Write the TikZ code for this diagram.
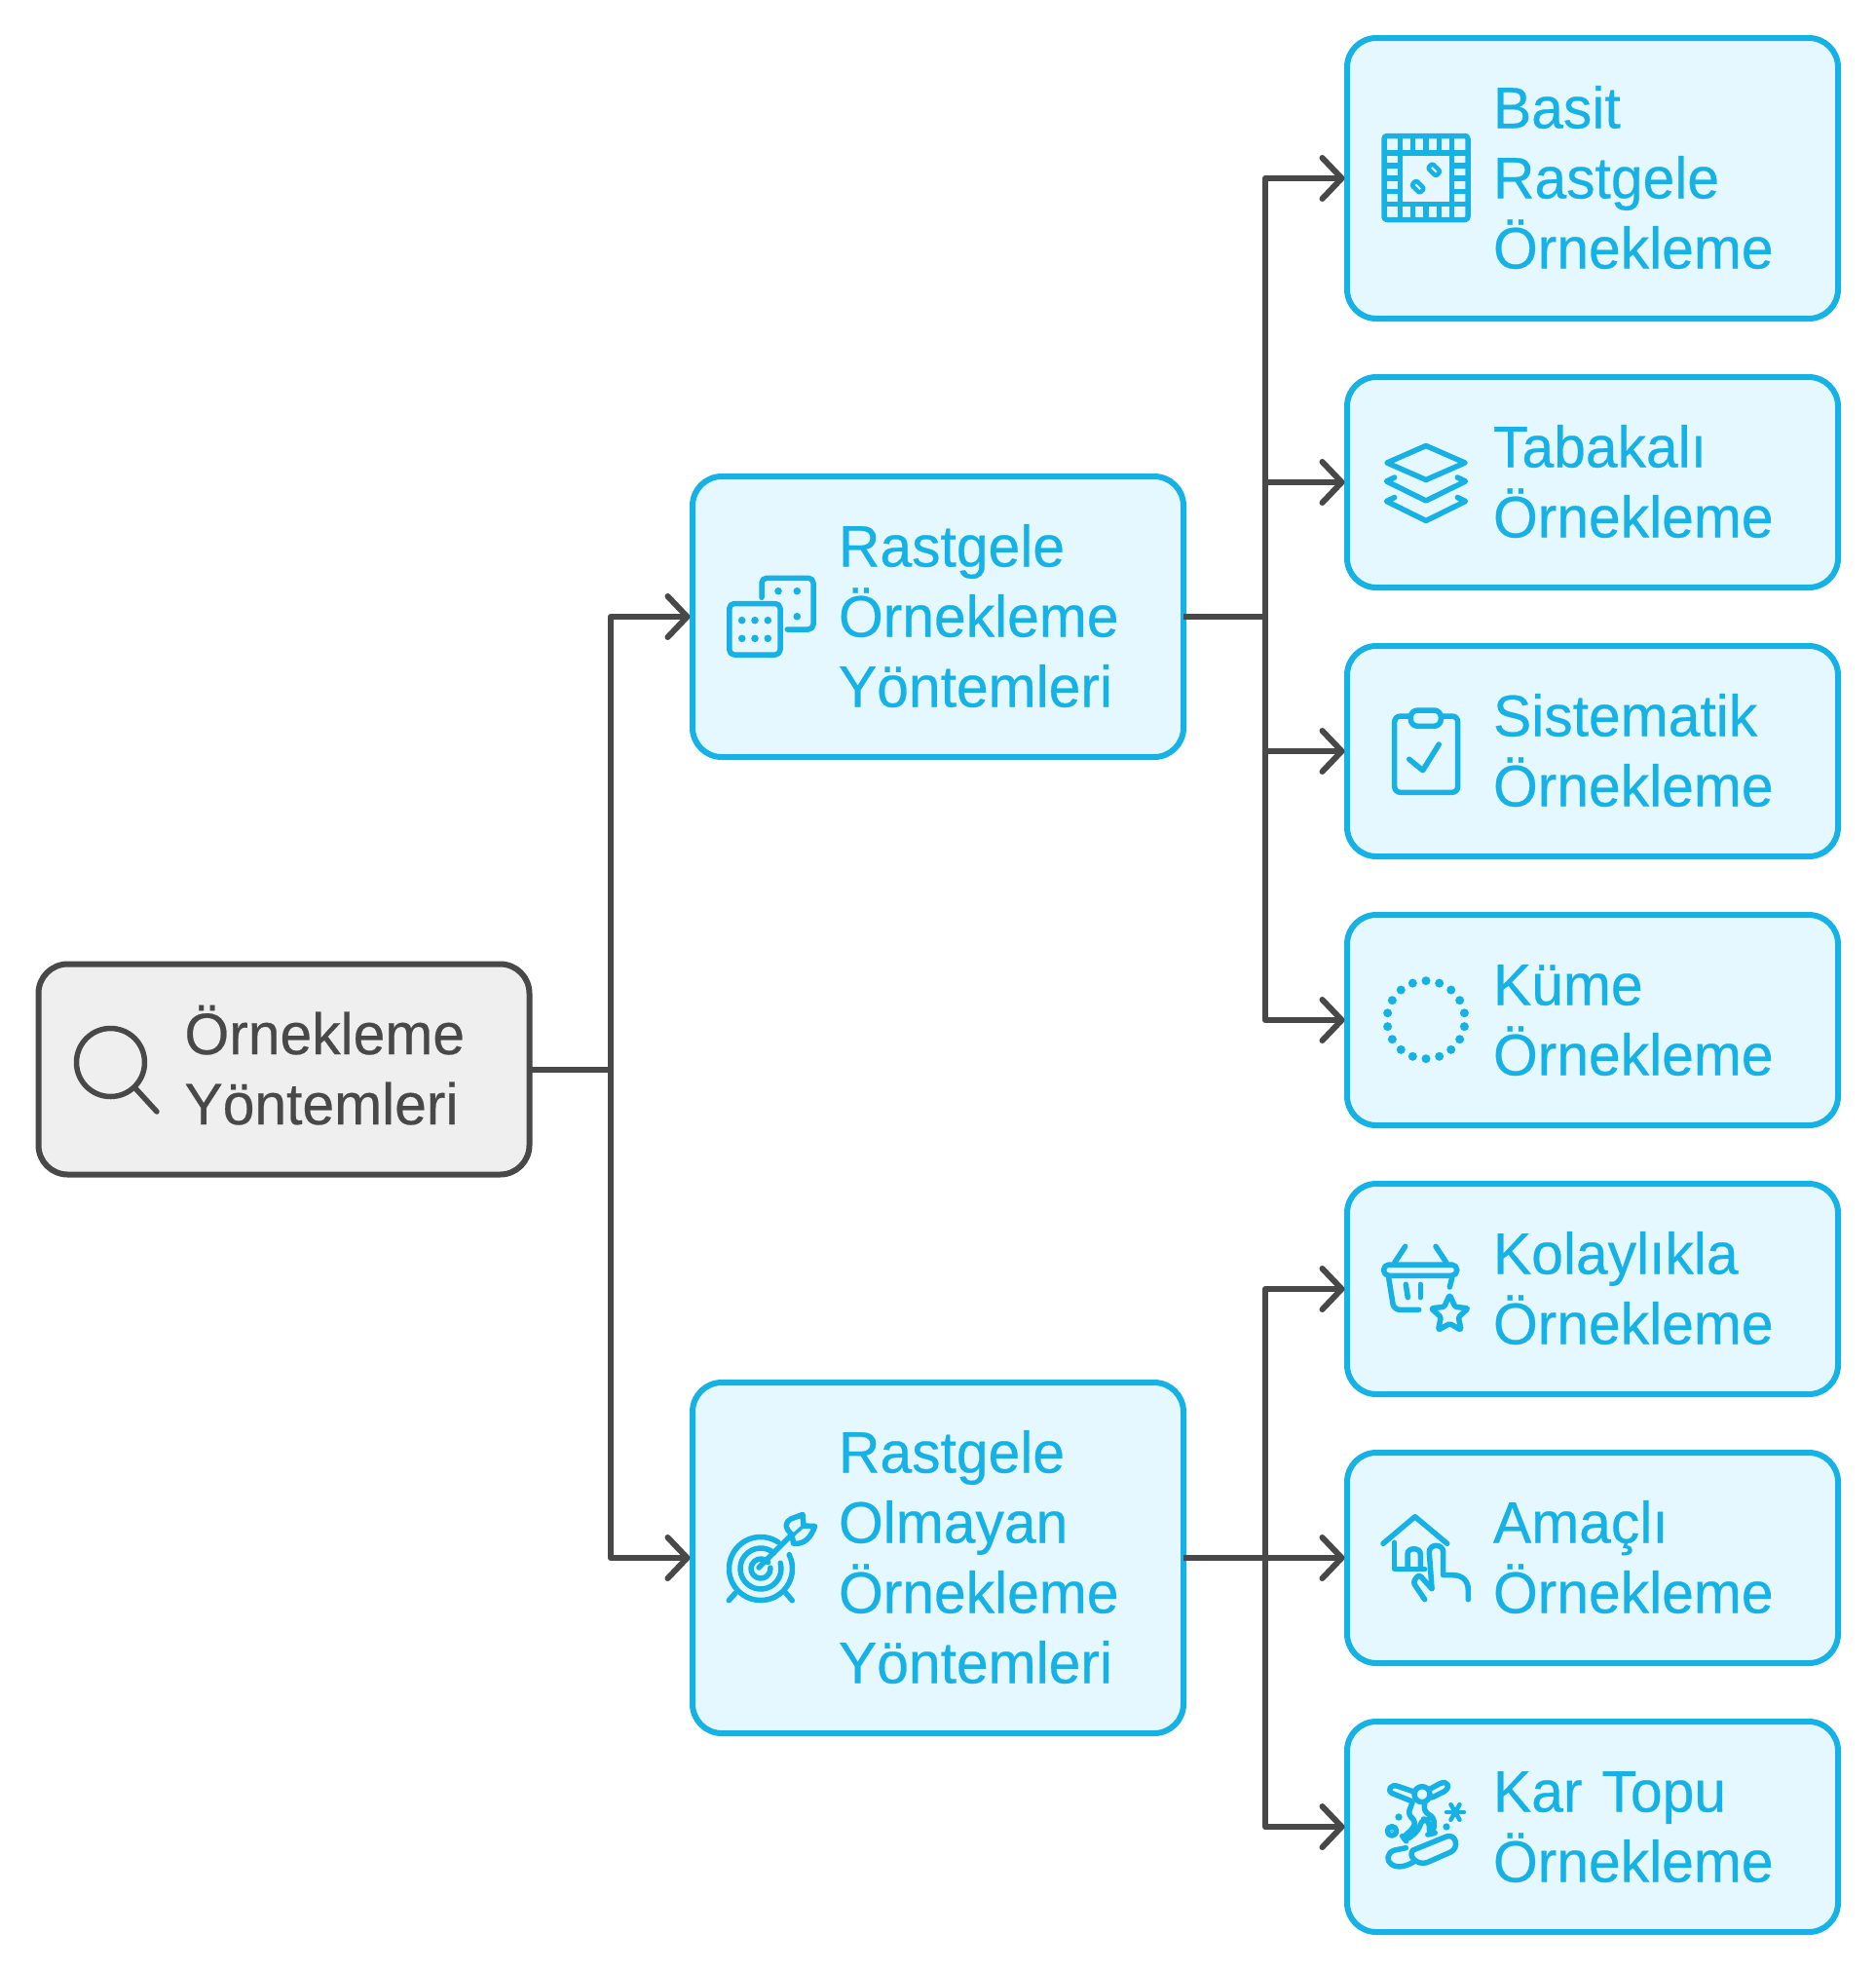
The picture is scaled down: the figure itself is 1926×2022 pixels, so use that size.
\documentclass[tikz,border=0pt]{standalone}
\usepackage{fontspec}
\setmainfont[FakeStretch=0.98,FakeBold=0.4]{Liberation Sans}
\usetikzlibrary{arrows.meta}
\definecolor{cyanline}{RGB}{22,177,229}
\definecolor{cyanfill}{RGB}{229,248,255}
\definecolor{greyline}{RGB}{72,72,72}
\definecolor{greyfill}{RGB}{239,239,239}
\tikzset{
  box/.style={rectangle,rounded corners=30pt,line width=6pt,outer sep=0pt,inner xsep=0pt,inner ysep=0pt,
    minimum width=504pt,text width=504pt,align=left,
    font=\fontsize{60pt}{72pt}\selectfont,
    execute at begin node={\leftskip=150pt}},
  bluebox/.style={box,draw=cyanline,fill=cyanfill,text=cyanline},
  greybox/.style={box,draw=greyline,fill=greyfill,text=greyline},
  twolines/.style={minimum height=216pt,text height=58pt,text depth=89pt},
  threelines/.style={minimum height=288pt,text height=58pt,text depth=161pt},
  fourlines/.style={minimum height=360pt,text height=58pt,text depth=233pt},
  conn/.style={draw=greyline,line width=6pt,line join=round},
  arrowconn/.style={conn,-{Straight Barb[length=20pt,width=42pt,round]},shorten >=2.5pt},
  ic/.style={draw=cyanline,line width=5.5pt,line cap=round,line join=round},
  dot/.style={fill=cyanline,draw=none},
  gic/.style={draw=greyline,line width=5.5pt,line cap=round,line join=round},
}
\begin{document}
\begin{tikzpicture}[x=1pt,y=-1pt]
\useasboundingbox (0,0) rectangle (1926,2022);
\fill[white] (0,0) rectangle (1926,2022);
% boxes
\node[greybox,twolines] (root) at (291.5,1097.5) {Örnekleme\\Yöntemleri};
\node[bluebox,threelines] (mid1) at (963,633) {Rastgele\\Örnekleme\\Yöntemleri};
\node[bluebox,fourlines] (mid2) at (963,1599) {Rastgele\\Olmayan\\Örnekleme\\Yöntemleri};
\node[bluebox,threelines] (b1) at (1635,183) {Basit\\Rastgele\\Örnekleme};
\node[bluebox,twolines] (b2) at (1635,495) {Tabakalı\\Örnekleme};
\node[bluebox,twolines] (b3) at (1635,771) {Sistematik\\Örnekleme};
\node[bluebox,twolines] (b4) at (1635,1047) {Küme\\Örnekleme};
\node[bluebox,twolines] (b5) at (1635,1323) {Kolaylıkla\\Örnekleme};
\node[bluebox,twolines] (b6) at (1635,1599) {Amaçlı\\Örnekleme};
\node[bluebox,twolines] (b7) at (1635,1875) {Kar Topu\\Örnekleme};
% connectors
\coordinate (busA) at (627,1097.5);
\coordinate (busB) at (1299,633);
\coordinate (busC) at (1299,1599);
\draw[conn] (root.east) -- (busA);
\draw[arrowconn] (busA) |- (mid1.west);
\draw[arrowconn] (busA) |- (mid2.west);
\draw[conn] (mid1.east) -- (busB);
\draw[arrowconn] (busB) |- (b1.west);
\draw[arrowconn] (busB) |- (b2.west);
\draw[arrowconn] (busB) |- (b3.west);
\draw[arrowconn] (busB) |- (b4.west);
\draw[conn] (mid2.east) -- (busC);
\draw[arrowconn] (busC) |- (b5.west);
\draw[arrowconn] (busC) -- (b6.west);
\draw[arrowconn] (busC) |- (b7.west);
% magnifier
\draw[gic] (113.5,1090.5) circle[radius=35];
\draw[gic] (139,1117) -- (161,1141);
% dice
\draw[ic,rounded corners=5pt] (748.8,619.5) rectangle (801,672);
\foreach \x in {761.7,775,788.3}\foreach \y in {636.7,655.3}\fill[dot] (\x,\y) circle[radius=3.8];
\draw[ic,rounded corners=5pt] (782,613.3) -- (782,593.3) -- (835,593.3) -- (835,646) -- (808.3,646);
\foreach \x/\y in {799/606.7,818.3/606.7,818.3/632.7}\fill[dot] (\x,\y) circle[radius=3.8];
% target
\draw[ic] (781,1610) ++(-56:32.5) arc[start angle=-56,end angle=-386,radius=32.5];
\draw[ic] (781,1610) ++(-50:21) arc[start angle=-50,end angle=-376,radius=21];
\draw[ic] (781,1610) ++(-40:10) arc[start angle=-40,end angle=-365,radius=10];
\draw[ic] (779,1609) -- (812,1576);
\draw[ic] (755,1635) -- (748.3,1642.7);
\draw[ic] (806.7,1635) -- (813.3,1642.7);
\draw[ic] (813,1575) .. controls (805,1568) and (806,1562) .. (812,1559) -- (824,1554.5) -- (825,1566) -- (836.5,1566.5) .. controls (833,1578) and (825,1586) .. (814.5,1584) -- cycle;
\draw[ic,line width=3.5pt] (825,1566) -- (815,1575);
% board
\draw[ic,rounded corners=3pt] (1421,139.5) rectangle (1507,225.5);
\draw[ic,line cap=butt] (1437.7,157) rectangle (1490.3,209.3);
\foreach \x in {1437.7,1450.7,1464,1477.3,1490.3}{\draw[ic,line cap=butt] (\x,139.5) -- (\x,157); \draw[ic,line cap=butt] (\x,209.3) -- (\x,225.5);}
\foreach \y in {157,170,183,196.3,209.3}{\draw[ic,line cap=butt] (1421,\y) -- (1437.7,\y); \draw[ic,line cap=butt] (1490.3,\y) -- (1507,\y);}
\foreach \x/\y in {1472.3/174.3,1455.7/191.7}
  \draw[ic,line width=4.5pt,rounded corners=2pt] (\x,\y) +(6.5,1.8) -- +(1.8,6.5) -- +(-6.5,-1.8) -- +(-1.8,-6.5) -- cycle;
% layers
\draw[ic] (1464,457.5) -- (1504,475) -- (1464,492.5) -- (1424,475) -- cycle;
\draw[ic] (1431.7,490) -- (1423.5,494) -- (1464,514) -- (1504.5,494) -- (1496.3,490);
\draw[ic] (1431.7,510.5) -- (1423.5,514.5) -- (1464,534.5) -- (1504.5,514.5) -- (1496.3,510.5);
% clipboard
\draw[ic,rounded corners=6pt] (1431.7,735) rectangle (1496.7,813.3);
\draw[ic,fill=cyanfill,rounded corners=7pt] (1448.3,729) rectangle (1479.3,745.3);
\draw[ic] (1446.7,779.3) -- (1460.7,790.7) -- (1477.3,764);
% cluster
\foreach \a in {-90,-70,...,250}\fill[dot] (1464,1046.7) +(\a:40) circle[radius=4.5];
% basket
\draw[ic,rounded corners=5.5pt] (1420.5,1298) rectangle (1495.8,1309.3);
\draw[ic] (1431.7,1296) -- (1442.7,1279.3);
\draw[ic] (1485,1296) -- (1474,1279.3);
\draw[ic,rounded corners=6pt] (1425.7,1311.7) -- (1431,1344.3) -- (1456.7,1344.3);
\draw[ic] (1490.7,1311.7) -- (1488.3,1321);
\draw[ic] (1443.3,1318.3) -- (1445.3,1331.7);
\draw[ic] (1458.3,1318.3) -- (1458.3,1331.7);
\draw[ic,rounded corners=1.5pt] (1488.3,1349) +(-90:20) -- +(-54:9.5) -- +(-18:20) -- +(18:9.5) -- +(54:20) -- +(90:9.5) -- +(126:20) -- +(162:9.5) -- +(198:20) -- +(234:9.5) -- cycle;
% home and hand
\draw[ic] (1420,1584.3) -- (1452.7,1556.7) -- (1485.7,1584.3);
\draw[ic] (1431.7,1583.3) -- (1431.7,1610.7) -- (1462.7,1610.7);
\draw[ic] (1445,1610) -- (1445,1595) .. controls (1445,1588) and (1458.3,1588) .. (1458.3,1595) -- (1458.3,1610);
\draw[ic] (1470,1630) -- (1467.3,1593.3) .. controls (1467.3,1584) and (1481.7,1584) .. (1481.7,1593.3) -- (1481.7,1616.7) -- (1491.7,1616.7) .. controls (1502,1616.7) and (1507.3,1623) .. (1507.3,1632) -- (1507.3,1641.7);
\draw[ic,rounded corners=3pt] (1462.7,1641.7) -- (1450.7,1624) -- (1456.7,1616) -- (1470,1630.7);
% snowboarder
\begin{scope}[shift={(1390,1800)},x=.33333pt,y=-.33333pt]
\draw[ic] (210,125) circle[radius=24];
\draw[ic] (175,145) -- (118,122) .. controls (100,112) and (115,92) .. (135,100) -- (188,118);
\draw[ic] (235,108) -- (265,92) .. controls (290,80) and (300,105) .. (275,118) -- (240,135);
\draw[ic,rounded corners=6pt] (180,150) -- (165,190) -- (192,205) -- (180,235) -- (150,255) -- (160,268) -- (200,235) -- (210,200) -- (232,205) -- (232,248) -- (245,245) -- (248,195) -- (215,180) -- (218,155);
\draw[ic] (182,297) -- (285,255) .. controls (315,245) and (325,290) .. (298,303) -- (225,335) .. controls (195,345) and (165,315) .. (182,297) -- cycle;
\draw[ic] (160,290) -- (125,297) .. controls (100,305) and (100,330) .. (115,340) .. controls (135,355) and (165,345) .. (185,332);
\fill[dot] (138,195) circle[radius=11];
\fill[dot] (285,225) circle[radius=11];
\draw[ic] (117,238) circle[radius=14];
\fill[dot] (117,238) circle[radius=4];
\foreach \a in {0,60,...,300}\draw[ic,line width=4.5pt] (312,180) -- +(\a:27);
\end{scope}
\end{tikzpicture}
\end{document}
